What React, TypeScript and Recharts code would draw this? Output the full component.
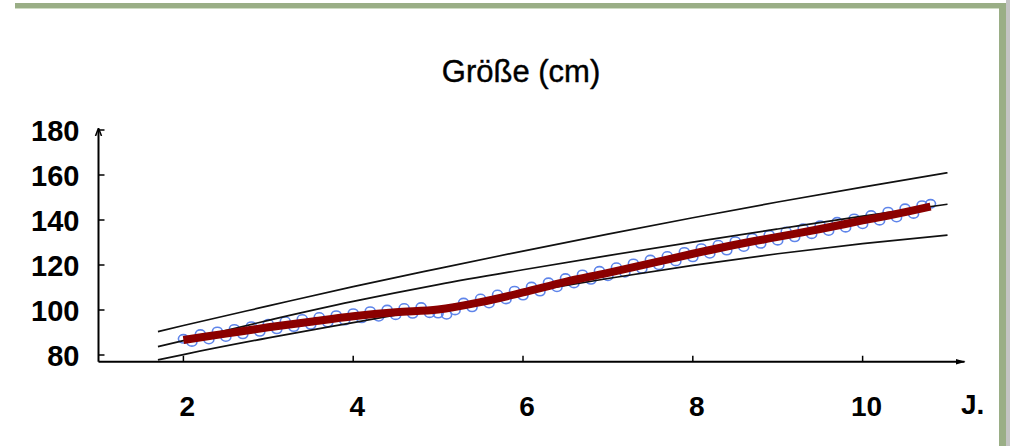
import React from 'react';
import { ComposedChart, Line, Scatter, XAxis, YAxis } from 'recharts';

const title = 'Größe (cm)';
const xUnit = 'J.';
const xTicks = [2, 4, 6, 8, 10];
const yTicks = [80, 100, 120, 140, 160, 180];

// reference (percentile) curves
const curveAges = [1.7, 2, 3, 4, 5, 6, 7, 8, 9, 10, 11];
const upperCurve = [90.4, 93.1, 101.8, 110.4, 118.4, 126.2, 133.7, 141.0, 148.0, 154.6, 161.0];
const middleCurve = [83.7, 86.4, 95.4, 103.8, 111.3, 117.9, 124.2, 130.2, 136.0, 141.7, 147.0];
const lowerCurve = [77.8, 80.2, 87.6, 94.4, 101.1, 107.7, 114.0, 119.8, 125.0, 129.5, 133.3];

// smoothed individual curve (red)
const meanAges = [2.0, 2.5, 3.0, 3.5, 4.0, 4.5, 5.0, 5.5, 6.0, 6.5, 7.0, 7.5, 8.0, 8.5, 9.0, 9.5, 10.0, 10.5, 10.8];
const meanValues = [86.7, 89.5, 92.3, 94.8, 97.2, 99.0, 100.2, 103.5, 107.8, 112.5, 116.5, 120.7, 125.0, 129.0, 132.5, 136.0, 139.8, 143.5, 146.0];

// measured values (blue circles)
const measureAges = [
  2.0, 2.1, 2.2, 2.3, 2.4, 2.5, 2.6, 2.7, 2.8, 2.9,
  3.0, 3.1, 3.2, 3.3, 3.4, 3.5, 3.6, 3.7, 3.8, 3.9,
  4.0, 4.1, 4.2, 4.3, 4.4, 4.5, 4.6, 4.7, 4.8, 4.9,
  5.0, 5.1, 5.2, 5.3, 5.4, 5.5, 5.6, 5.7, 5.8, 5.9,
  6.0, 6.1, 6.2, 6.3, 6.4, 6.5, 6.6, 6.7, 6.8, 6.9,
  7.0, 7.1, 7.2, 7.3, 7.4, 7.5, 7.6, 7.7, 7.8, 7.9,
  8.0, 8.1, 8.2, 8.3, 8.4, 8.5, 8.6, 8.7, 8.8, 8.9,
  9.0, 9.1, 9.2, 9.3, 9.4, 9.5, 9.6, 9.7, 9.8, 9.9,
  10.0, 10.1, 10.2, 10.3, 10.4, 10.5, 10.6, 10.7, 10.8,
];
const measureValues = [
  87.2, 85.8, 89.3, 86.9, 90.5, 88.0, 91.6, 89.2, 92.8, 90.3,
  93.9, 91.4, 95.0, 92.4, 96.0, 93.4, 96.9, 94.4, 97.7, 95.3,
  98.6, 96.3, 99.5, 97.0, 100.2, 97.7, 100.9, 98.3, 101.3, 98.6,
  98.4, 97.9, 99.8, 103.3, 101.2, 105.1, 102.9, 106.9, 104.7, 108.6,
  106.4, 110.4, 108.2, 112.3, 110.1, 114.2, 111.8, 115.8, 113.4, 117.4,
  115.0, 119.0, 116.6, 120.7, 118.3, 122.4, 119.9, 124.0, 121.6, 125.8,
  123.4, 127.5, 125.0, 129.0, 126.4, 130.6, 128.0, 132.1, 129.4, 133.4,
  130.8, 134.9, 132.3, 136.3, 133.7, 137.7, 135.1, 139.2, 136.6, 140.7,
  138.1, 142.2, 139.7, 143.7, 141.1, 145.2, 142.7, 146.6, 147.2,
];

const curveData = curveAges.map((x, i) => ({ x, up: upperCurve[i], mid: middleCurve[i], low: lowerCurve[i] }));
const meanData = meanAges.map((x, i) => ({ x, v: meanValues[i] }));
const measureData = measureAges.map((x, i) => ({ x, v: measureValues[i] }));

const FONT = "'Liberation Sans', Arial, sans-serif";

const XTick = (props: any) => {
  const { x, y, payload } = props;
  return (
    <g>
      <line x1={x} x2={x} y1={y} y2={y - 6} stroke="#000" strokeWidth={1.5} />
      <text x={x + 4} y={y + 54} textAnchor="middle" fontFamily={FONT} fontWeight="bold" fontSize={28} fill="#000">
        {payload.value}
      </text>
    </g>
  );
};

const YTick = (props: any) => {
  const { x, y, payload } = props;
  return (
    <g>
      <line x1={x} x2={x + 6} y1={y} y2={y} stroke="#000" strokeWidth={1.5} />
      <text x={x - 19} y={y + 11} textAnchor="end" fontFamily={FONT} fontWeight="bold" fontSize={29} fill="#000">
        {payload.value}
      </text>
    </g>
  );
};

const Circle = (props: any) => {
  const { cx, cy } = props;
  return <ellipse cx={cx} cy={cy} rx={5} ry={4.2} fill="none" stroke="#5f85ea" strokeWidth={1.6} />;
};

export default function App() {
  return (
    <div style={{ position: 'absolute', left: 0, top: 0, width: 1010, height: 446, background: '#fff', overflow: 'hidden' }}>
      <svg width="0" height="0" style={{ position: 'absolute' }}>
        <defs>
          <marker id="arrowX" markerUnits="userSpaceOnUse" markerWidth="10" markerHeight="8" refX="9" refY="4" orient="auto">
            <path d="M0,1 L10,4 L0,7 z" fill="#000" />
          </marker>
          <marker id="arrowY" markerUnits="userSpaceOnUse" markerWidth="8" markerHeight="10" refX="6" refY="5" orient="auto-start-reverse">
            <path d="M0,2 L8,5 L0,8" fill="none" stroke="#000" strokeWidth="1.5" />
          </marker>
        </defs>
      </svg>
      <div style={{ position: 'absolute', left: 15, top: 3, width: 991, height: 5, background: '#9aae86' }} />
      <div style={{ position: 'absolute', left: 15, top: 8, width: 984, height: 1, background: '#cfdcc4' }} />
      <div style={{ position: 'absolute', left: 999, top: 3, width: 7, height: 443, background: '#9aae86' }} />
      <div style={{ position: 'absolute', left: 1006, top: 0, width: 4, height: 446, background: '#c4c4c4' }} />
      <div style={{ position: 'absolute', left: 421, top: 57, width: 200, textAlign: 'center', fontFamily: FONT, fontSize: 31, lineHeight: '30px', color: '#000', whiteSpace: 'nowrap', WebkitTextStroke: '0.4px #000' }}>
        {title}
      </div>
      <div style={{ position: 'absolute', left: 961, top: 391, fontFamily: FONT, fontWeight: 'bold', fontSize: 28, lineHeight: '28px', color: '#000' }}>
        {xUnit}
      </div>
      <div style={{ position: 'absolute', left: 0, top: 0 }}>
        <ComposedChart width={1010} height={446} margin={{ top: 130, right: 45.5, bottom: 24.25, left: 0 }}>
          <XAxis
            type="number"
            dataKey="x"
            domain={[1, 11.2]}
            ticks={xTicks}
            interval={0}
            allowDataOverflow
            height={60}
            axisLine={{ stroke: '#000', strokeWidth: 2, markerEnd: 'url(#arrowX)' }}
            tickLine={false}
            tickSize={0}
            tickMargin={0}
            tick={<XTick />}
          />
          <YAxis
            type="number"
            domain={[77, 180]}
            ticks={yTicks}
            interval={0}
            allowDataOverflow
            width={98.5}
            axisLine={{ stroke: '#000', strokeWidth: 2, markerStart: 'url(#arrowY)' }}
            tickLine={false}
            tickSize={0}
            tickMargin={0}
            tick={<YTick />}
          />
          <Scatter data={measureData} dataKey="v" shape={<Circle />} isAnimationActive={false} zIndex={600} />
          <Line data={curveData} dataKey="up" type="monotone" stroke="#111" strokeWidth={1.7} dot={false} isAnimationActive={false} zIndex={610} />
          <Line data={curveData} dataKey="mid" type="monotone" stroke="#111" strokeWidth={1.7} dot={false} isAnimationActive={false} zIndex={610} />
          <Line data={curveData} dataKey="low" type="monotone" stroke="#111" strokeWidth={1.7} dot={false} isAnimationActive={false} zIndex={610} />
          <Line data={meanData} dataKey="v" type="monotone" stroke="#8b0000" strokeWidth={8} dot={false} isAnimationActive={false} zIndex={650} />
        </ComposedChart>
      </div>
    </div>
  );
}
